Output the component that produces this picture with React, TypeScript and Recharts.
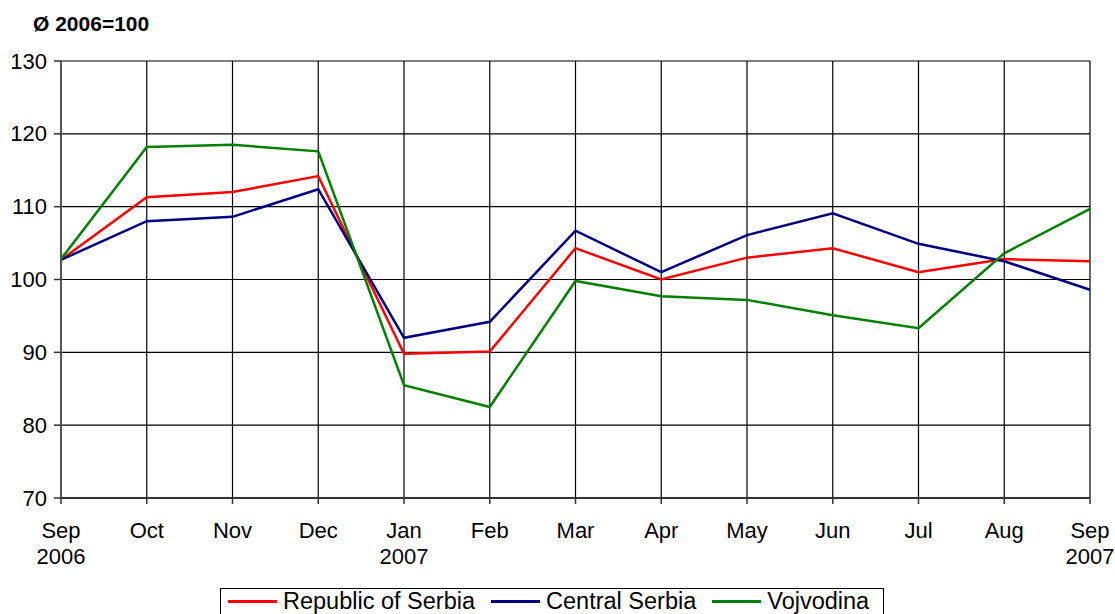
import React from "react";
import { LineChart, Line, XAxis, YAxis, CartesianGrid } from "recharts";

const months = ["Sep", "Oct", "Nov", "Dec", "Jan", "Feb", "Mar", "Apr", "May", "Jun", "Jul", "Aug", "Sep"];
const years = ["2006", "", "", "", "2007", "", "", "", "", "", "", "", "2007"];
const serbia = [102.7, 111.3, 112.0, 114.2, 89.8, 90.1, 104.3, 100.0, 103.0, 104.3, 101.0, 102.8, 102.5];
const central = [102.7, 108.0, 108.6, 112.4, 92.0, 94.2, 106.7, 101.0, 106.1, 109.1, 104.9, 102.5, 98.6];
const vojvodina = [102.8, 118.2, 118.5, 117.6, 85.5, 82.5, 99.8, 97.7, 97.2, 95.1, 93.3, 103.6, 109.7];
const yTicks = [70, 80, 90, 100, 110, 120, 130];

const data = months.map((m, i) => ({
  key: i,
  month: m,
  year: years[i],
  serbia: serbia[i],
  central: central[i],
  vojvodina: vojvodina[i],
}));

const FONT = "'Liberation Sans', Arial, sans-serif";

const XTick = (props: any) => {
  const { x, y, payload } = props;
  const d = data[payload.value];
  return (
    <g transform={`translate(${x},${y})`}>
      <text x={0} y={0} dy={32} textAnchor="middle" fontSize={22} fontFamily={FONT} fill="#000">
        {d.month}
      </text>
      {d.year && (
        <text x={0} y={0} dy={58} textAnchor="middle" fontSize={22} fontFamily={FONT} fill="#000">
          {d.year}
        </text>
      )}
    </g>
  );
};

const YTick = (props: any) => {
  const { x, y, payload } = props;
  return (
    <text x={x - 5} y={y} dy={7.5} textAnchor="end" fontSize={22} fontFamily={FONT} fill="#000">
      {payload.value}
    </text>
  );
};

const legendItems = [
  { label: "Republic of Serbia", color: "#FF0000" },
  { label: "Central Serbia", color: "#000080" },
  { label: "Vojvodina", color: "#008000" },
];

const LegendBox = () => (
  <div
    style={{
      position: "absolute",
      left: 220,
      top: 588,
      border: "1px solid #000",
      display: "flex",
      alignItems: "center",
      height: 27,
      width: 664,
      boxSizing: "border-box",
      paddingLeft: 7,
      fontFamily: FONT,
      fontSize: 23.5,
      lineHeight: "25px",
      background: "#fff",
      whiteSpace: "nowrap",
    }}
  >
    {legendItems.map((it) => (
      <div key={it.label} style={{ display: "flex", alignItems: "center", marginRight: 16 }}>
        <div style={{ width: 49, height: 2.5, background: it.color, marginRight: 6 }} />
        <span>{it.label}</span>
      </div>
    ))}
  </div>
);

export default function App() {
  return (
    <div style={{ position: "absolute", left: 0, top: 0, width: 1115, height: 614, background: "#fff", overflow: "hidden" }}>
      <div
        style={{
          position: "absolute",
          left: 33,
          top: 12,
          fontFamily: FONT,
          fontWeight: "bold",
          fontSize: 21,
          color: "#000",
        }}
      >
        Ø 2006=100
      </div>
      <LineChart width={1115} height={614} data={data} margin={{ top: 61, right: 25, bottom: 0, left: 0 }}>
        <CartesianGrid stroke="#000" strokeWidth={1.2} />
        <XAxis
          dataKey="key"
          type="number"
          domain={[0, 12]}
          ticks={data.map((d) => d.key)}
          interval={0}
          tick={<XTick />}
          tickSize={6}
          height={116}
          axisLine={{ stroke: "#333", strokeWidth: 2 }}
          tickLine={{ stroke: "#333", strokeWidth: 1.5 }}
        />
        <YAxis
          width={61}
          domain={[70, 130]}
          ticks={yTicks}
          interval={0}
          tickSize={7}
          tick={<YTick />}
          axisLine={{ stroke: "#555", strokeWidth: 2 }}
          tickLine={{ stroke: "#333", strokeWidth: 1.5 }}
        />
        <Line type="linear" dataKey="serbia" name="Republic of Serbia" stroke="#FF0000" strokeWidth={2.5} dot={false} isAnimationActive={false} />
        <Line type="linear" dataKey="central" name="Central Serbia" stroke="#000080" strokeWidth={2.5} dot={false} isAnimationActive={false} />
        <Line type="linear" dataKey="vojvodina" name="Vojvodina" stroke="#008000" strokeWidth={2.5} dot={false} isAnimationActive={false} />
      </LineChart>
      <LegendBox />
    </div>
  );
}
